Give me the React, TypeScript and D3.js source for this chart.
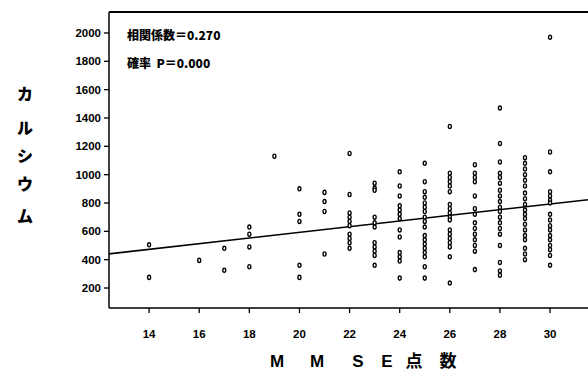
import React from "react";
import * as d3 from "d3";

const xTicks = [14, 16, 18, 20, 22, 24, 26, 28, 30];
const yTicks = [200, 400, 600, 800, 1000, 1200, 1400, 1600, 1800, 2000];

// MMSE score columns and calcium values
const scoreCols = [14, 16, 17, 18, 19, 20, 21, 22, 23, 24, 25, 26, 27, 28, 29, 30];
const calciumByScore = [
  [505, 275],
  [395],
  [480, 325],
  [630, 580, 490, 350],
  [1130],
  [900, 720, 670, 360, 275],
  [875, 810, 740, 440],
  [1150, 860, 730, 700, 670, 640, 580, 550, 520, 480],
  [940, 905, 890, 700, 660, 630, 520, 490, 460, 430, 360],
  [1020, 920, 850, 780, 750, 720, 690, 610, 560, 450, 420, 390, 270],
  [1080, 950, 880, 840, 800, 770, 740, 700, 670, 630, 570, 540, 510, 480, 450, 420, 350, 270],
  [1340, 1010, 980, 950, 920, 880, 790, 760, 730, 700, 680, 610, 580, 550, 520, 490, 420, 235],
  [1070, 1010, 980, 950, 850, 760, 720, 660, 620, 580, 540, 500, 460, 330],
  [1470, 1220, 1090, 1010, 980, 940, 890, 850, 810, 770, 740, 700, 660, 620, 580, 500, 380, 320, 290],
  [1120, 1080, 1040, 1000, 960, 920, 870, 830, 790, 750, 720, 690, 650, 610, 570, 540, 480, 440, 400],
  [1970, 1160, 1020, 880, 850, 820, 800, 720, 680, 640, 610, 570, 540, 500, 470, 430, 360],
];

const regIntercept = 193;
const regSlope = 20;

const annotations = ["相関係数＝0.270", "確率  P＝0.000"];
const yLabelChars = ["カ", "ル", "シ", "ウ", "ム"];
const xLabelChars = ["M", "M", "S", "E", "点", "数"];

export default function App() {
  const W = 588, H = 376;
  const left = 109, right = 600, top = 12, bottom = 308;
  const x = d3.scaleLinear().domain([12.4, 12.4 + (right - left) / 25.06]).range([left, right]);
  const y = d3.scaleLinear().domain([59, 2148]).range([bottom, top]);

  const points: { s: number; v: number }[] = [];
  scoreCols.forEach((s, i) => calciumByScore[i].forEach((v) => points.push({ s, v })));

  const line = d3.line<number>().x((d) => x(d)).y((d) => y(regIntercept + regSlope * d));
  const font = "'Liberation Sans', Arial, sans-serif";
  const cjk = "'Noto Sans CJK JP', sans-serif";

  const xLabelX = [277, 317, 358, 387, 414, 448];
  const yLabelY = [100, 134, 162, 190, 222];

  return (
    <svg width={W} height={H} style={{ position: "absolute", left: 0, top: 0, background: "#fff" }}>
      <rect width={W} height={H} fill="#fff" />
      {/* frame */}
      <line x1={left} x2={W} y1={top} y2={top} stroke="#000" strokeWidth={2} />
      <line x1={left} x2={left} y1={top} y2={bottom} stroke="#000" strokeWidth={1.5} />
      <line x1={left} x2={W} y1={bottom} y2={bottom} stroke="#000" strokeWidth={1.5} />
      {/* y ticks */}
      {yTicks.map((t) => (
        <g key={t}>
          <line x1={left - 5} x2={left} y1={y(t)} y2={y(t)} stroke="#000" strokeWidth={1.3} />
          <text x={left - 8} y={y(t) + 4} textAnchor="end" fontFamily={font} fontWeight="bold" fontSize={11.5}>
            {t}
          </text>
        </g>
      ))}
      {/* x ticks */}
      {xTicks.map((t) => (
        <g key={t}>
          <line x1={x(t)} x2={x(t)} y1={bottom} y2={bottom + 5} stroke="#000" strokeWidth={1.3} />
          <text x={x(t)} y={bottom + 30} textAnchor="middle" fontFamily={font} fontWeight="bold" fontSize={11.5}>
            {t}
          </text>
        </g>
      ))}
      {/* regression line */}
      <path d={line([12.4, 32]) || ""} stroke="#000" strokeWidth={1.6} fill="none" />
      {/* points */}
      {points.map((p, i) => (
        <ellipse key={i} cx={x(p.s)} cy={y(p.v)} rx={1.5} ry={2.1} fill="#fff" stroke="#000" strokeWidth={1.35} />
      ))}
      {/* annotations */}
      {annotations.map((a, i) => (
        <text key={i} x={127} y={40 + i * 28} fontFamily={cjk} fontWeight="900" fontSize={12} xmlSpace="preserve">
          {a}
        </text>
      ))}
      {/* y label */}
      {yLabelChars.map((c, i) => (
        <text key={i} x={25} y={yLabelY[i]} textAnchor="middle" fontFamily={cjk} fontWeight="900" fontSize={16}>
          {c}
        </text>
      ))}
      {/* x label */}
      {xLabelChars.map((c, i) => (
        <text key={i} x={xLabelX[i]} y={367} textAnchor="middle" fontFamily={i >= 4 ? cjk : font} fontWeight="bold" fontSize={17}>
          {c}
        </text>
      ))}
    </svg>
  );
}
